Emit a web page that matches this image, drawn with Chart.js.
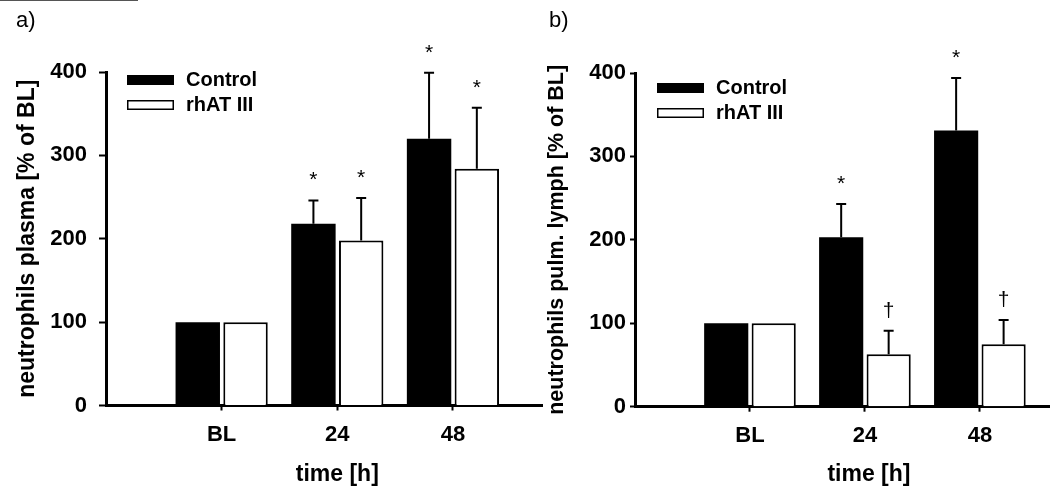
<!DOCTYPE html>
<html>
<head>
<meta charset="utf-8">
<script src="https://cdn.jsdelivr.net/npm/chart.js@4.4.1/dist/chart.umd.min.js"></script>
<style>
  body { margin: 0; background: #fff; }
  #wrap { position: relative; width: 1050px; height: 502px; overflow: hidden; background: #fff; }
  canvas { position: absolute; top: 0; }
  #chartA { left: 0; }
  #chartB { left: 530px; }
  .panel { position: absolute; top: 9px; font: 22px 'Liberation Sans', Arial, sans-serif; line-height: 1; }
  #rule { position: absolute; left: 0; top: 0; width: 138px; border-top: 1px solid #555; }
</style>
</head>
<body>
<div id="wrap">
  <div id="rule"></div>
  <canvas id="chartA" width="545" height="502"></canvas>
  <canvas id="chartB" width="520" height="502"></canvas>
  <div class="panel" style="left:16px">a)</div>
  <div class="panel" style="left:549px">b)</div>
</div>
<script>
const categories = ['BL', '24', '48'];
const seriesNames = ['Control', 'rhAT III'];
const yTicks = [0, 100, 200, 300, 400];

// a) neutrophils plasma, mean + SEM
const plasmaControl = [100, 218, 320];
const plasmaControlSem = [0, 28, 79];
const plasmaRhat = [100, 198, 284];
const plasmaRhatSem = [0, 51, 73];
const plasmaControlSig = ['', '*', '*'];
const plasmaRhatSig = ['', '*', '*'];

// b) neutrophils pulmonary lymph
const lymphControl = [100, 203, 331];
const lymphControlSem = [0, 40, 63];
const lymphRhat = [100, 63, 75];
const lymphRhatSem = [0, 28, 29];
const lymphControlSig = ['', '*', '*'];
const lymphRhatSig = ['', '\u2020', '\u2020'];

const FAMILY = "'Liberation Sans', Arial, sans-serif";
Chart.defaults.font.family = FAMILY;
Chart.defaults.color = '#000';

const tickFont = { size: 22, weight: 'bold' };

// error bars (upper only) + significance marks
const errorBarsPlugin = {
  id: 'errorBars',
  afterDatasetsDraw(chart) {
    const ctx = chart.ctx;
    const y = chart.scales.y;
    ctx.save();
    ctx.strokeStyle = '#000';
    ctx.fillStyle = '#000';
    ctx.lineWidth = 2;
    ctx.textAlign = 'center';
    ctx.textBaseline = 'alphabetic';
    ctx.font = '21px ' + FAMILY;
    chart.data.datasets.forEach((ds, i) => {
      const meta = chart.getDatasetMeta(i);
      meta.data.forEach((bar, j) => {
        const err = ds.sem[j];
        let top = bar.y;
        if (err > 0) {
          top = y.getPixelForValue(ds.data[j].y + err);
          ctx.beginPath();
          ctx.moveTo(bar.x, bar.y);
          ctx.lineTo(bar.x, top);
          ctx.moveTo(bar.x - 5, top);
          ctx.lineTo(bar.x + 5, top);
          ctx.stroke();
        }
        if (ds.sig[j]) ctx.fillText(ds.sig[j], bar.x, top - 14);
      });
    });
    ctx.restore();
  }
};

// legend inside the plot area + x axis title under the middle tick
const panelExtras = {
  id: 'panelExtras',
  afterDraw(chart, args, opts) {
    const ctx = chart.ctx;
    const area = chart.chartArea;
    ctx.save();
    ctx.font = 'bold 20px ' + FAMILY;
    ctx.textBaseline = 'middle';
    ctx.textAlign = 'left';
    chart.data.datasets.forEach((ds, i) => {
      const sx = area.left + opts.legendX;
      const sy = area.top + opts.legendY + i * 25;
      ctx.fillStyle = ds.backgroundColor;
      ctx.fillRect(sx, sy, 47, 10);
      if (ds.borderWidth) {
        ctx.strokeStyle = '#000';
        ctx.lineWidth = 1.5;
        ctx.strokeRect(sx + 0.75, sy + 0.75, 45.5, 8.5);
      }
      ctx.fillStyle = '#000';
      ctx.fillText(ds.label, sx + 59, sy + 5.5);
    });

    const x = chart.scales.x;
    ctx.font = 'bold 23px ' + FAMILY;
    ctx.textAlign = 'center';
    ctx.fillText(opts.xTitle, x.getPixelForValue(2) + opts.xTitleShift, opts.xTitleY);
    ctx.restore();
  }
};

function makeChart(id, cfg) {
  const toPoints = vals => categories.map((c, i) => ({ x: i + 1, y: vals[i] }));
  return new Chart(document.getElementById(id), {
    type: 'bar',
    data: {
      datasets: [
        {
          label: seriesNames[0],
          data: toPoints(cfg.control),
          sem: cfg.controlSem,
          sig: cfg.controlSig,
          backgroundColor: '#000',
          borderColor: '#000',
          borderWidth: 0,
          categoryPercentage: 0.826,
          barPercentage: 0.93
        },
        {
          label: seriesNames[1],
          data: toPoints(cfg.rhat),
          sem: cfg.rhatSem,
          sig: cfg.rhatSig,
          backgroundColor: '#fff',
          borderColor: '#000',
          borderWidth: 2,
          categoryPercentage: 0.826,
          barPercentage: 0.93
        }
      ]
    },
    options: {
      responsive: false,
      animation: false,
      layout: { padding: { top: cfg.top, right: cfg.right, left: 0, bottom: 0 } },
      plugins: {
        legend: { display: false },
        tooltip: { enabled: false },
        panelExtras: { legendX: cfg.legendX, legendY: cfg.legendY, xTitle: 'time [h]', xTitleY: 475, xTitleShift: cfg.xTitleShift }
      },
      scales: {
        x: {
          type: 'linear',
          min: 0,
          max: cfg.xMax,
          offset: false,
          afterBuildTicks: s => {
            s.ticks = categories.map((c, i) => ({ value: i + 1 }));
          },
          afterFit: s => { s.height = cfg.xHeight; },
          ticks: {
            autoSkip: false,
            maxRotation: 0,
            padding: 11,
            font: tickFont,
            callback: v => categories[v - 1]
          },
          grid: { drawOnChartArea: false, drawTicks: true, tickLength: 5, tickWidth: 2, tickColor: '#000', offset: false },
          border: { color: '#000', width: 3 }
        },
        y: {
          min: yTicks[0],
          max: yTicks[yTicks.length - 1],
          afterFit: s => { s.width = cfg.yWidth; },
          ticks: { stepSize: yTicks[1] - yTicks[0], padding: cfg.yPad, font: tickFont },
          grid: { drawOnChartArea: false, tickLength: cfg.yTick, tickWidth: 2, tickColor: '#000' },
          border: { color: '#000', width: 3 },
          title: {
            display: true,
            text: cfg.yTitle,
            font: { size: cfg.titleSize, weight: 'bold' },
            padding: { top: cfg.titlePad, bottom: 0 }
          }
        }
      }
    },
    plugins: [errorBarsPlugin, panelExtras]
  });
}

makeChart('chartA', {
  control: plasmaControl, controlSem: plasmaControlSem, controlSig: plasmaControlSig,
  rhat: plasmaRhat, rhatSem: plasmaRhatSem, rhatSig: plasmaRhatSig,
  yTitle: 'neutrophils plasma [% of BL]', titleSize: 23,
  top: 72, right: 3, xHeight: 96.5, yWidth: 106, xMax: 3.77, xTitleShift: 0,
  yTick: 7, yPad: 12, titlePad: 14, legendX: 21, legendY: 3
});

makeChart('chartB', {
  control: lymphControl, controlSem: lymphControlSem, controlSig: lymphControlSig,
  rhat: lymphRhat, rhatSem: lymphRhatSem, rhatSig: lymphRhatSig,
  yTitle: 'neutrophils pulm. lymph [% of BL]', titleSize: 21.5,
  top: 73, right: 0, xHeight: 95.3, yWidth: 105, xMax: 3.61, xTitleShift: 4,
  yTick: 5, yPad: 4, titlePad: 14, legendX: 22, legendY: 10
});
</script>
</body>
</html>
